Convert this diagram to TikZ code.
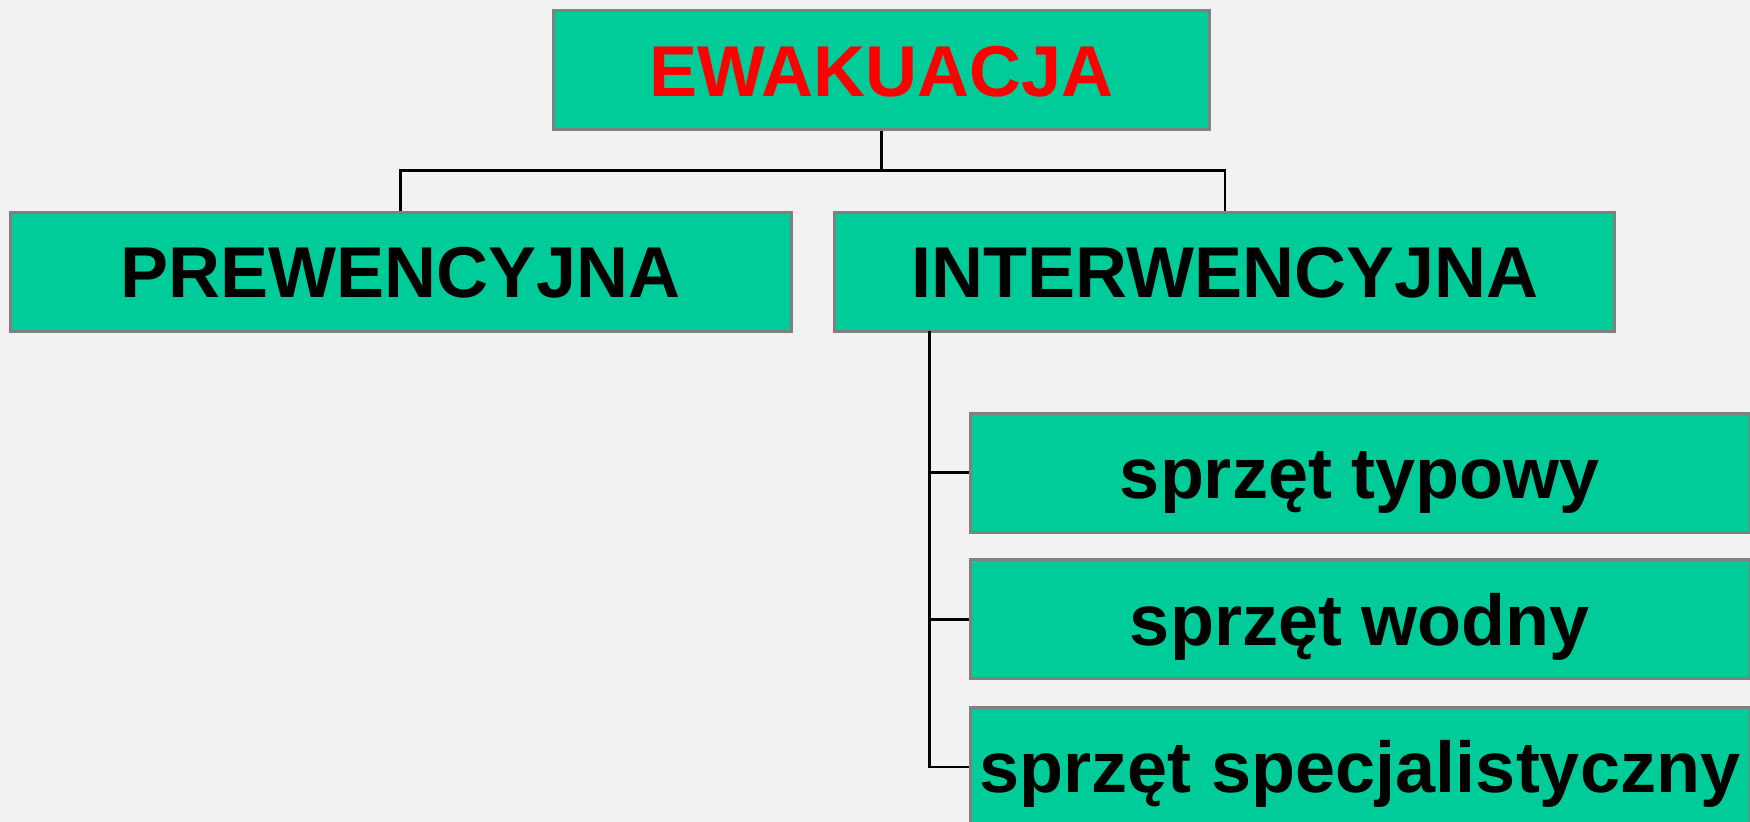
\documentclass[tikz,border=0pt]{standalone}
\usepackage{fontspec}
\usepackage{tikz}
\setmainfont{Liberation Sans}

\definecolor{bgcol}{RGB}{242,242,242}
\definecolor{boxfill}{RGB}{0,204,153}
\definecolor{boxline}{RGB}{128,128,128}

\begin{document}
\begin{tikzpicture}[x=0.5pt,y=-0.5pt,
    box/.style={draw=boxline, line width=1.5pt, fill=boxfill, inner sep=0pt,
        minimum height=59.5pt, text height=25.8pt, text depth=0pt,
        font=\fontsize{36}{40}\selectfont\bfseries},
    link/.style={line width=1.3pt}]
    \fill[bgcol] (0,0) rectangle (1750,822);
    \useasboundingbox (0,0) rectangle (1750,822);

    \node[box, minimum width=328pt, text=red] (ewak) at (881.7,70.3) {EWAKUACJA};
    \node[box, minimum width=390.5pt] (prew) at (400.7,271.8) {PREWENCYJNA};
    \node[box, minimum width=390pt] (inter) at (1224.9,271.8) {INTERWENCYJNA};

    \node[box, minimum width=390pt] (typ) at (1360,472.7) {sprzęt typowy};
    \node[box, minimum width=390pt] (wod) at (1360,619.4) {sprzęt wodny};
    \node[box, minimum width=390pt] (spec) at (1360,766.8) {sprzęt specjalistyczny};

    \coordinate (hub) at (881.7,170.8);
    \coordinate (trunk) at (929.7,331.5);

    \draw[link] (ewak.south) -- (hub);
    \draw[link] (prew.north) |- (hub) -| (inter.north);

    \draw[link] (trunk) |- (spec.west);
    \draw[link] (trunk |- typ.west) -- (typ.west);
    \draw[link] (trunk |- wod.west) -- (wod.west);
\end{tikzpicture}
\end{document}
